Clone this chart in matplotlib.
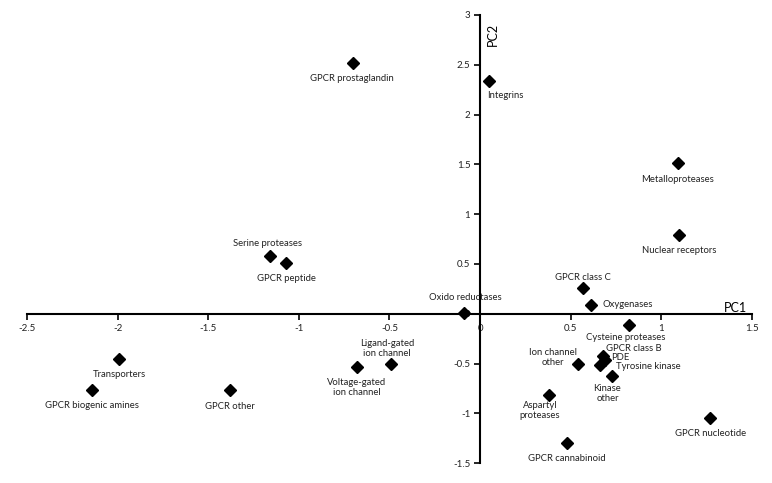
import matplotlib
matplotlib.use("Agg")
from matplotlib import pyplot as plt

plt.rcParams["font.family"] = ["Lato", "DejaVu Sans"]

# target classes and their PCA scores
classes = [
    "GPCR prostaglandin", "Integrins", "Metalloproteases", "Nuclear receptors",
    "Serine proteases", "GPCR peptide", "Oxido reductases", "GPCR class C",
    "Oxygenases", "Cysteine proteases", "GPCR class B", "PDE",
    "Tyrosine kinase", "Ion channel\nother", "Kinase\nother",
    "Aspartyl\nproteases", "GPCR cannabinoid", "GPCR nucleotide",
    "Ligand-gated\nion channel", "Voltage-gated\nion channel", "Transporters",
    "GPCR biogenic amines", "GPCR other",
]
pc1 = [-0.70, 0.05, 1.09, 1.10, -1.16, -1.07, -0.09, 0.57, 0.61, 0.82, 0.68,
       0.69, 0.66, 0.54, 0.73, 0.38, 0.48, 1.27, -0.49, -0.68, -1.99, -2.14,
       -1.38]
pc2 = [2.52, 2.34, 1.51, 0.79, 0.58, 0.51, 0.01, 0.26, 0.09, -0.11, -0.42,
       -0.46, -0.51, -0.50, -0.62, -0.82, -1.30, -1.05, -0.50, -0.53, -0.45,
       -0.77, -0.77]

# label placement (offset in pixels, horizontal alignment)
label_pos = {
    "GPCR prostaglandin": (-1, -16, "center"),
    "Integrins": (-2, -15, "left"),
    "Metalloproteases": (0, -16, "center"),
    "Nuclear receptors": (0, -15, "center"),
    "Serine proteases": (-2, 13, "center"),
    "GPCR peptide": (0, -16, "center"),
    "Oxido reductases": (2, 15, "center"),
    "GPCR class C": (0, 10, "center"),
    "Oxygenases": (12, 0, "left"),
    "Cysteine proteases": (-3, -13, "center"),
    "GPCR class B": (3, 7, "left"),
    "PDE": (6, 2, "left"),
    "Tyrosine kinase": (16, -2, "left"),
    "Ion channel\nother": (-25, 6, "center"),
    "Kinase\nother": (-5, -18, "center"),
    "Aspartyl\nproteases": (-9, -15, "center"),
    "GPCR cannabinoid": (0, -15, "center"),
    "GPCR nucleotide": (0, -15, "center"),
    "Ligand-gated\nion channel": (-4, 15, "center"),
    "Voltage-gated\nion channel": (0, -21, "center"),
    "Transporters": (0, -16, "center"),
    "GPCR biogenic amines": (0, -15, "center"),
    "GPCR other": (0, -16, "center"),
}

fig = plt.figure(figsize=(7.72, 4.83), dpi=100)
ax = fig.add_axes([0.035, 0.041, 0.939, 0.928])

ax.plot(pc1, pc2, "D", color="black", markersize=6.5, zorder=3)

for name, x, y in zip(classes, pc1, pc2):
    dx, dy, ha = label_pos[name]
    ax.annotate(name, (x, y), xytext=(dx, dy), textcoords="offset pixels",
                ha=ha, va="center", fontsize=6.8, color="#222222",
                linespacing=1.25, multialignment="center")

ax.set_xlim(-2.5, 1.5)
ax.set_ylim(-1.5, 3)
ax.set_xticks([-2.5, -2, -1.5, -1, -0.5, 0, 0.5, 1, 1.5])
ax.set_xticklabels(["-2.5", "-2", "-1.5", "-1", "-0.5", "0", "0.5", "1", "1.5"])
ax.set_yticks([-1.5, -1, -0.5, 0, 0.5, 1, 1.5, 2, 2.5, 3])
ax.set_yticklabels(["-1.5", "-1", "-0.5", "0", "0.5", "1", "1.5", "2", "2.5", "3"])

for side in ("top", "right"):
    ax.spines[side].set_visible(False)
ax.spines["left"].set_position(("data", 0))
ax.spines["bottom"].set_position(("data", 0))
ax.spines["left"].set_linewidth(1.5)
ax.spines["bottom"].set_linewidth(1.5)
ax.tick_params(direction="out", length=4, width=1.2, labelsize=7,
               labelcolor="#222222", pad=3)

ax.text(1.41, 0.06, "PC1", fontsize=9, ha="center", va="center")
ax.text(0.07, 2.8, "PC2", fontsize=9, rotation=90, ha="center", va="center")

fig.savefig("out.png", dpi=100)
